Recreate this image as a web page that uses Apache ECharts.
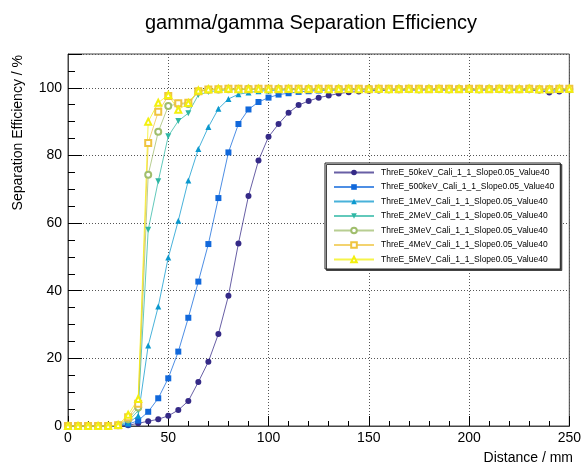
<!DOCTYPE html>
<html>
<head>
<meta charset="utf-8">
<script src="https://cdn.jsdelivr.net/npm/echarts@6/dist/echarts.min.js"></script>
<style>
  html, body { margin: 0; padding: 0; background: #fff; }
  #chart { width: 584px; height: 467px; }
</style>
</head>
<body>
<div id="chart"></div>
<script>
// distance in mm
var distance = [0, 5, 10, 15, 20, 25, 30, 35, 40, 45, 50, 55, 60, 65, 70, 75, 80, 85, 90, 95,
    100, 105, 110, 115, 120, 125, 130, 135, 140, 145, 150, 155, 160, 165, 170, 175, 180, 185, 190, 195,
    200, 205, 210, 215, 220, 225, 230, 235, 240, 245, 250];

// separation efficiency in %
var eff50keV = [0, 0, 0, 0, 0, 0, 0.2, 0.8, 1.4, 2.0, 3.0, 4.7, 7.4, 13.0, 19.0, 27.2, 38.5, 54.0, 68.0, 78.5,
    85.5, 89.3, 92.6, 94.9, 96.1, 97.1, 97.7, 98.3, 98.7, 98.9, 99.1, 99.2, 99.3, 99.3, 99.4, 99.3, 99.4, 99.4, 99.3, 99.4,
    99.4, 99.3, 99.4, 99.4, 99.3, 99.4, 99.3, 99.2, 98.6, 98.9, 99.3];
var eff500keV = [0, 0, 0, 0, 0, 0, 0.5, 1.6, 4.2, 8.2, 14.1, 22.0, 32.0, 42.7, 53.8, 67.4, 80.9, 89.3, 93.6, 95.8,
    97.1, 98.0, 98.4, 98.8, 99.0, 99.2, 99.3, 99.3, 99.4, 99.4, 99.5, 99.4, 99.5, 99.5, 99.4, 99.5, 99.5, 99.4, 99.5, 99.5,
    99.4, 99.5, 99.4, 99.5, 99.5, 99.4, 99.5, 99.4, 99.3, 99.4, 99.5];
var eff1MeV = [0, 0, 0, 0, 0, 0.1, 0.9, 3.0, 23.8, 35.3, 49.8, 60.7, 72.6, 81.9, 88.4, 93.8, 96.7, 98.1, 98.6, 99.0,
    99.2, 99.3, 99.4, 99.5, 99.4, 99.5, 99.5, 99.6, 99.5, 99.5, 99.6, 99.5, 99.5, 99.6, 99.5, 99.5, 99.6, 99.5, 99.5, 99.6,
    99.5, 99.5, 99.6, 99.5, 99.5, 99.5, 99.6, 99.5, 99.4, 99.5, 99.5];
var eff2MeV = [0, 0, 0, 0, 0, 0.1, 1.4, 4.5, 58.0, 72.4, 85.7, 90.2, 92.5, 97.9, 98.8, 99.2, 99.4, 99.5, 99.5, 99.6,
    99.5, 99.6, 99.5, 99.6, 99.6, 99.5, 99.6, 99.6, 99.5, 99.6, 99.6, 99.5, 99.6, 99.6, 99.5, 99.6, 99.6, 99.5, 99.6, 99.6,
    99.5, 99.6, 99.6, 99.5, 99.6, 99.5, 99.6, 99.6, 99.5, 99.5, 99.6];
var eff3MeV = [0, 0, 0, 0, 0, 0.2, 2.0, 5.5, 74.3, 87.0, 94.6, 95.3, 95.2, 98.9, 99.4, 99.5, 99.6, 99.6, 99.7, 99.6,
    99.6, 99.7, 99.6, 99.6, 99.7, 99.6, 99.6, 99.7, 99.6, 99.6, 99.7, 99.6, 99.6, 99.7, 99.6, 99.6, 99.7, 99.6, 99.6, 99.7,
    99.6, 99.6, 99.7, 99.6, 99.6, 99.6, 99.7, 99.6, 99.6, 99.6, 99.6];
var eff4MeV = [0, 0, 0, 0, 0, 0.2, 2.6, 6.6, 83.7, 92.9, 97.6, 95.4, 95.6, 99.0, 99.5, 99.6, 99.7, 99.7, 99.6, 99.7,
    99.7, 99.6, 99.7, 99.7, 99.6, 99.7, 99.7, 99.6, 99.7, 99.7, 99.6, 99.7, 99.7, 99.6, 99.7, 99.7, 99.6, 99.7, 99.7, 99.6,
    99.7, 99.7, 99.6, 99.7, 99.7, 99.6, 99.7, 99.6, 99.6, 99.7, 99.7];
var eff5MeV = [0, 0, 0, 0, 0, 0.3, 3.3, 8.0, 90.0, 95.6, 97.9, 93.5, 95.5, 99.2, 99.6, 99.7, 99.7, 99.6, 99.7, 99.7,
    99.6, 99.7, 99.7, 99.6, 99.7, 99.7, 99.6, 99.7, 99.7, 99.6, 99.7, 99.7, 99.6, 99.7, 99.7, 99.6, 99.7, 99.7, 99.6, 99.7,
    99.7, 99.6, 99.7, 99.7, 99.6, 99.7, 99.7, 99.6, 99.6, 99.7, 99.7];

var names = ['ThreE_50keV_Cali_1_1_Slope0.05_Value40', 'ThreE_500keV_Cali_1_1_Slope0.05_Value40',
    'ThreE_1MeV_Cali_1_1_Slope0.05_Value40', 'ThreE_2MeV_Cali_1_1_Slope0.05_Value40',
    'ThreE_3MeV_Cali_1_1_Slope0.05_Value40', 'ThreE_4MeV_Cali_1_1_Slope0.05_Value40',
    'ThreE_5MeV_Cali_1_1_Slope0.05_Value40'];
var values = [eff50keV, eff500keV, eff1MeV, eff2MeV, eff3MeV, eff4MeV, eff5MeV];
var colors = ['#352a87', '#1168db', '#0b98ce', '#2eb7a4', '#a0be6d', '#efc43f', '#f3f00e'];
var symbols = ['circle', 'rect', 'triangle', 'path://M0,0 L10,0 L5,9 Z', 'emptyCircle', 'emptyRect', 'emptyTriangle'];

var font = 'Liberation Sans, Arial, sans-serif';

var chart = echarts.init(document.getElementById('chart'));

var series = names.map(function (name, i) {
    return {
        name: name,
        type: 'line',
        data: distance.map(function (d, k) { return [d, values[i][k]]; }),
        symbol: symbols[i],
        symbolSize: 6,
        showAllSymbol: true,
        clip: false,
        itemStyle: { color: colors[i], borderWidth: 1 },
        lineStyle: { color: colors[i], width: 1, opacity: 0.75 }
    };
});

chart.setOption({
    animation: false,
    backgroundColor: '#fff',
    title: {
        text: 'gamma/gamma Separation Efficiency',
        left: 140,
        top: 8,
        textStyle: { fontFamily: font, fontSize: 20, fontWeight: 'normal', color: '#000' }
    },
    grid: {
        left: 68,
        right: 11,
        top: 54,
        bottom: 41,
        show: true,
        borderColor: '#444',
        borderWidth: 1
    },
    legend: {
        orient: 'vertical',
        left: 325,
        top: 163,
        padding: [5, 6, 5, 8],
        itemGap: 5.5,
        itemWidth: 40,
        itemHeight: 7,
        backgroundColor: '#fff',
        borderColor: '#222',
        borderWidth: 1,
        shadowColor: '#444',
        shadowOffsetX: 1.5,
        shadowOffsetY: 1.5,
        shadowBlur: 0,
        textStyle: { fontFamily: font, fontSize: 8.5, color: '#000', padding: [0, 0, 0, 2] },
        data: names
    },
    xAxis: {
        type: 'value',
        min: 0,
        max: 250,
        interval: 50,
        axisLine: { show: true, lineStyle: { color: '#444' } },
        axisTick: { show: true, inside: true, length: 10, lineStyle: { color: '#000' } },
        minorTick: { show: true, splitNumber: 5, length: 5, lineStyle: { color: '#000' } },
        splitLine: { show: true, lineStyle: { color: '#555', type: [1, 2] } },
        axisLabel: { fontFamily: font, fontSize: 14, color: '#000', margin: 5 }
    },
    yAxis: {
        type: 'value',
        min: 0,
        max: 110,
        interval: 20,
        axisLine: { show: true, lineStyle: { color: '#444' } },
        axisTick: { show: true, inside: true, length: 14, lineStyle: { color: '#000' } },
        minorTick: { show: true, splitNumber: 4, length: 7, lineStyle: { color: '#000' } },
        splitLine: { show: true, lineStyle: { color: '#555', type: [1, 2] } },
        axisLabel: { fontFamily: font, fontSize: 14, color: '#000', margin: 6, showMaxLabel: false }
    },
    graphic: [
        {
            type: 'text',
            x: 18,
            y: 55,
            rotation: Math.PI / 2,
            style: {
                text: 'Separation Efficiency / %',
                fontFamily: font,
                fontSize: 14,
                fill: '#000',
                align: 'right',
                verticalAlign: 'middle'
            }
        },
        {
            type: 'text',
            x: 573,
            y: 458,
            style: {
                text: 'Distance / mm',
                fontFamily: font,
                fontSize: 14,
                fill: '#000',
                align: 'right',
                verticalAlign: 'middle'
            }
        }
    ],
    series: series
});
</script>
</body>
</html>
